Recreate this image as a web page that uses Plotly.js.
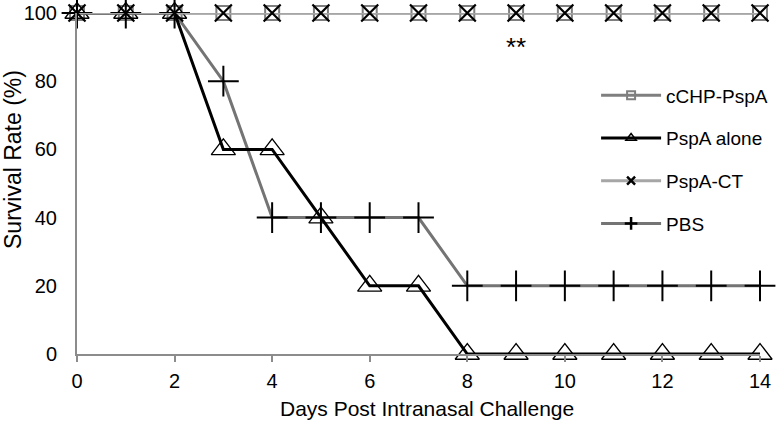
<!DOCTYPE html>
<html>
<head>
<meta charset="utf-8">
<script src="https://cdn.plot.ly/plotly-3.0.1.min.js"></script>
<style>html,body{margin:0;padding:0;background:#fff}#chart{width:780px;height:422px}</style>
</head>
<body>
<div id="chart"></div>
<script>
var days = [0,1,2,3,4,5,6,7,8,9,10,11,12,13,14];
var cchpPspA = [100,100,100,100,100,100,100,100,100,100,100,100,100,100,100];
var pspaAlone = [100,100,100,60,60,40,20,20,0,0,0,0,0,0,0];
var pspaCT = [100,100,100,100,100,100,100,100,100,100,100,100,100,100,100];
var pbs = [100,100,100,80,40,40,40,40,20,20,20,20,20,20,20];
var seriesNames = ["cCHP-PspA","PspA alone","PspA-CT","PBS"];
var xTicks = [0,2,4,6,8,10,12,14];
var yTicks = [0,20,40,60,80,100];
var xTitle = "Days Post Intranasal Challenge";
var yTitle = "Survival Rate (%)";
var sigLabel = "**";
var sigDay = 9;
var sigY = 90;

var font = "Liberation Sans, Arial, sans-serif";
var styles = [
  {line: {color: "#7f7f7f", width: 3}, marker: {symbol: "square-open", size: 14, color: "#7f7f7f", line: {width: 2, color: "#7f7f7f"}},
   legMarker: {symbol: "square-open", size: 8, color: "#7f7f7f", line: {width: 2, color: "#7f7f7f"}}},
  {line: {color: "#000000", width: 3}, marker: {symbol: "triangle-up", size: 21, color: "rgba(255,255,255,0)", line: {width: 1.3, color: "#000"}},
   legMarker: {symbol: "triangle-up-open", size: 9, color: "#000", line: {width: 1.5, color: "#000"}}},
  {line: {color: "#a6a6a6", width: 3}, marker: {symbol: "x-thin-open", size: 17, color: "#000", line: {width: 2.2, color: "#000"}},
   legMarker: {symbol: "x-thin-open", size: 8, color: "#000", line: {width: 2.5, color: "#000"}}},
  {line: {color: "#747474", width: 3}, marker: {symbol: "cross-thin-open", size: 22, color: "#000", line: {width: 2, color: "#000"}},
   legMarker: {symbol: "cross-thin-open", size: 9, color: "#000", line: {width: 2.5, color: "#000"}}}
];
var seriesValues = [cchpPspA, pspaAlone, pspaCT, pbs];
var drawOrder = [0, 3, 1, 2];

var traces = [];
drawOrder.forEach(function (i) {
  traces.push({x: days, y: seriesValues[i], name: seriesNames[i], mode: "lines+markers", showlegend: false,
    legendgroup: "g" + i, legendrank: i + 1,
    line: styles[i].line, marker: styles[i].marker, cliponaxis: false});
});
seriesNames.forEach(function (n, i) {
  traces.push({x: [null], y: [null], name: n, mode: "lines+markers", legendgroup: "g" + i, legendrank: i + 1,
    line: styles[i].line, marker: styles[i].legMarker});
});

var layout = {
  width: 780, height: 422,
  margin: {l: 77, r: 20, t: 13, b: 68, autoexpand: false},
  paper_bgcolor: "#fff", plot_bgcolor: "#fff",
  font: {family: font, size: 19, color: "#000"},
  showlegend: true,
  legend: {x: 0.76, y: 0.814, xanchor: "left", yanchor: "top",
           traceorder: "grouped", tracegroupgap: 15, itemwidth: 60, itemsizing: "trace",
           font: {family: font, size: 19, color: "#000"}, bgcolor: "rgba(0,0,0,0)"},
  xaxis: {range: [0,14], tickvals: xTicks, ticks: "outside", ticklen: 6, tickcolor: "#8c8c8c", tickwidth: 2,
          showline: true, linecolor: "#8c8c8c", linewidth: 2, showgrid: false, zeroline: false,
          automargin: false, ticklabelstandoff: 2, tickfont: {size: 20}},
  yaxis: {range: [0,100], tickvals: yTicks, ticks: "outside", ticklen: 14, tickcolor: "rgba(0,0,0,0)",
          showline: true, linecolor: "#8c8c8c", linewidth: 2, automargin: false,
          showgrid: false, zeroline: false, tickfont: {size: 20}},
  annotations: [
    {x: sigDay, y: sigY, text: sigLabel, showarrow: false, font: {size: 26, color: "#000"}},
    {xref: "paper", yref: "paper", x: (427 - 77) / 683, y: (354 - 408) / 341, text: xTitle, showarrow: false,
     xanchor: "center", yanchor: "middle", font: {size: 21, color: "#000"}},
    {xref: "paper", yref: "paper", x: (13 - 77) / 683, y: (354 - 160) / 341, text: yTitle, showarrow: false, textangle: -90,
     xanchor: "center", yanchor: "middle", font: {size: 23, color: "#000"}}
  ]
};
Plotly.newPlot("chart", traces, layout, {displayModeBar: false, staticPlot: true});
</script>
</body>
</html>
